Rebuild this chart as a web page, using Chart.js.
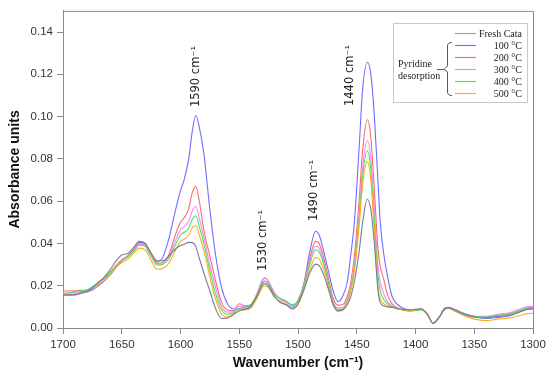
<!DOCTYPE html>
<html>
<head>
<meta charset="utf-8">
<script src="https://cdn.jsdelivr.net/npm/chart.js@4.4.1/dist/chart.umd.min.js"></script>
<style>
  html, body { margin: 0; padding: 0; background: #fff; }
  #wrap { width: 550px; height: 377px; position: relative; }
</style>
</head>
<body>
<div id="wrap"><canvas id="c"></canvas></div>
<script>
// Pyridine-FTIR spectra

const WN = [1700, 1690, 1685, 1680, 1675, 1670, 1665, 1660, 1655, 1650, 1645, 1640, 1635, 1630, 1625, 1620,
  1615, 1610, 1605, 1600, 1597, 1593, 1590, 1587, 1584, 1580, 1575, 1570, 1565, 1560, 1555, 1550,
  1545, 1540, 1535, 1530, 1528, 1525, 1520, 1515, 1510, 1505, 1500, 1495, 1490, 1485, 1482, 1478,
  1475, 1470, 1466, 1462, 1458, 1455, 1452, 1448, 1445, 1441, 1438, 1435, 1432, 1430, 1427, 1424,
  1420, 1415, 1410, 1405, 1400, 1395, 1390, 1385, 1380, 1375, 1372, 1365, 1360, 1350, 1340, 1330,
  1320, 1310, 1305, 1300];

const FRESH = [.0155, .0156, .0168, .0172, .0190, .0215, .0240, .0275, .0315, .0345, .0352, .0380, .0410, .0400, .0355, .0318,
  .0318, .0340, .0370, .0390, .0395, .0405, .0404, .0385, .0330, .0258, .0175, .0090, .0045, .0048, .0065, .0082,
  .0090, .0105, .0150, .0205, .0210, .0195, .0150, .0120, .0110, .0090, .0115, .0180, .0260, .0302, .0295, .0250,
  .0200, .0110, .0080, .0085, .0110, .0150, .0220, .0360, .0500, .0609, .0560, .0400, .0180, .0120, .0105, .0100,
  .0098, .0092, .0088, .0085, .0088, .0090, .0065, .0022, .0050, .0090, .0095, .0080, .0068, .0052, .0048, .0055,
  .0060, .0078, .0088, .0090];

const T100 = [.0158, .0158, .0162, .0170, .0180, .0200, .0222, .0250, .0285, .0318, .0340, .0370, .0405, .0398, .0352, .0312,
  .0335, .0420, .0540, .0650, .0700, .0800, .0930, .1005, .0950, .0820, .0560, .0340, .0190, .0115, .0090, .0090,
  .0090, .0100, .0150, .0215, .0222, .0205, .0150, .0122, .0112, .0098, .0130, .0210, .0360, .0458, .0440, .0360,
  .0290, .0175, .0125, .0150, .0220, .0350, .0500, .0850, .1130, .1257, .1200, .1000, .0700, .0500, .0350, .0250,
  .0150, .0110, .0092, .0085, .0088, .0090, .0068, .0022, .0050, .0095, .0098, .0085, .0072, .0055, .0045, .0050,
  .0058, .0080, .0090, .0092];

const T200 = [.0175, .0176, .0178, .0180, .0192, .0215, .0235, .0262, .0295, .0322, .0340, .0368, .0400, .0392, .0348, .0305,
  .0310, .0345, .0430, .0500, .0520, .0565, .0640, .0670, .0600, .0460, .0340, .0220, .0120, .0085, .0082, .0115,
  .0105, .0110, .0160, .0230, .0238, .0220, .0165, .0138, .0125, .0108, .0130, .0205, .0330, .0410, .0400, .0330,
  .0260, .0140, .0108, .0110, .0150, .0220, .0340, .0600, .0840, .0985, .0900, .0650, .0380, .0290, .0230, .0160,
  .0115, .0095, .0086, .0082, .0086, .0090, .0066, .0022, .0050, .0092, .0095, .0080, .0068, .0052, .0052, .0060,
  .0068, .0085, .0095, .0097];

const T300 = [.0165, .0168, .0172, .0175, .0190, .0210, .0232, .0260, .0292, .0318, .0338, .0365, .0398, .0390, .0345, .0303,
  .0308, .0335, .0405, .0465, .0480, .0505, .0555, .0575, .0520, .0426, .0300, .0190, .0100, .0075, .0078, .0102,
  .0100, .0112, .0160, .0228, .0235, .0218, .0165, .0135, .0122, .0105, .0125, .0200, .0315, .0388, .0378, .0312,
  .0245, .0125, .0095, .0095, .0135, .0195, .0300, .0540, .0760, .0886, .0800, .0560, .0300, .0215, .0160, .0125,
  .0105, .0092, .0085, .0082, .0086, .0090, .0066, .0022, .0050, .0092, .0096, .0082, .0070, .0055, .0055, .0065,
  .0072, .0092, .0100, .0102];

const T400 = [.0160, .0172, .0176, .0178, .0195, .0215, .0236, .0262, .0293, .0320, .0336, .0362, .0392, .0385, .0340, .0298,
  .0302, .0325, .0385, .0440, .0452, .0472, .0515, .0530, .0480, .0397, .0270, .0160, .0085, .0065, .0072, .0092,
  .0098, .0110, .0155, .0215, .0220, .0208, .0160, .0140, .0128, .0110, .0125, .0195, .0300, .0370, .0360, .0300,
  .0235, .0120, .0088, .0088, .0125, .0185, .0285, .0510, .0720, .0838, .0750, .0500, .0250, .0175, .0135, .0115,
  .0100, .0090, .0084, .0080, .0082, .0085, .0065, .0022, .0050, .0092, .0096, .0082, .0070, .0055, .0052, .0060,
  .0065, .0085, .0095, .0097];

const T500 = [.0160, .0162, .0165, .0172, .0185, .0205, .0225, .0252, .0285, .0310, .0325, .0352, .0378, .0370, .0320, .0278,
  .0282, .0305, .0360, .0410, .0420, .0440, .0475, .0485, .0440, .0365, .0240, .0135, .0065, .0052, .0062, .0082,
  .0085, .0095, .0140, .0195, .0200, .0190, .0145, .0125, .0112, .0090, .0110, .0180, .0275, .0333, .0325, .0275,
  .0215, .0110, .0082, .0085, .0120, .0175, .0265, .0480, .0680, .0787, .0700, .0450, .0200, .0140, .0115, .0105,
  .0098, .0090, .0085, .0082, .0085, .0088, .0066, .0022, .0048, .0088, .0092, .0075, .0062, .0042, .0035, .0042,
  .0048, .0060, .0068, .0070];

const SERIES_LABELS = ["Fresh Cata", "100 °C", "200 °C", "300 °C", "400 °C", "500 °C"];
const SERIES_COLORS = ["#7a7a9c", "#6f6fff", "#ff6a6a", "#ff80ff", "#3ee860", "#ffae1a"];
const X_TICKS = [1700, 1650, 1600, 1550, 1500, 1450, 1400, 1350, 1300];
const Y_TICKS = [0, 0.02, 0.04, 0.06, 0.08, 0.10, 0.12, 0.14];

// peak annotations: [text, wavenumber, absorbance at text foot]
const PEAK_LABELS = [
  ["1590 cm\u207B\u00B9", 1587, 0.1045],
  ["1440 cm\u207B\u00B9", 1456, 0.105],
  ["1530 cm\u207B\u00B9", 1530, 0.027],
  ["1490 cm\u207B\u00B9", 1486, 0.0506],
];

const ALL = [FRESH, T100, T200, T300, T400, T500];

const datasets = ALL.map((vals, i) => ({
  label: SERIES_LABELS[i],
  data: WN.map((w, j) => ({ x: w, y: vals[j] })),
  borderColor: SERIES_COLORS[i],
  borderWidth: 1.1,
  pointRadius: 0,
  fill: false,
  cubicInterpolationMode: "monotone",
  order: i === 0 ? 0 : 7 - i,
}));

// frame on top + right, peak labels and the bracketed legend
const decor = {
  id: "decor",
  afterDatasetsDraw(chart) {
    const { ctx, chartArea: a, scales } = chart;
    ctx.save();
    ctx.strokeStyle = "#8a8a8a";
    ctx.lineWidth = 1;
    ctx.beginPath();
    ctx.moveTo(a.left, a.top + 0.5);
    ctx.lineTo(a.right + 0.5, a.top + 0.5);
    ctx.lineTo(a.right + 0.5, a.bottom);
    ctx.stroke();

    ctx.fillStyle = "#222";
    ctx.font = "11.5px 'DejaVu Sans', sans-serif";
    ctx.textAlign = "left";
    ctx.textBaseline = "middle";
    PEAK_LABELS.forEach(([t, w, v]) => {
      const px = scales.x.getPixelForValue(w);
      const py = scales.y.getPixelForValue(v);
      ctx.save();
      ctx.translate(px, py);
      ctx.rotate(-Math.PI / 2);
      ctx.fillText(t, 0, 0);
      ctx.restore();
    });

    // legend box
    const bx = 393, by = 23, bw = 134, bh = 79;
    ctx.fillStyle = "#fff";
    ctx.fillRect(bx, by, bw, bh);
    ctx.strokeStyle = "#c8c8c8";
    ctx.strokeRect(bx + 0.5, by + 0.5, bw, bh);
    const rows = [33, 45, 57, 69, 81, 93];
    ctx.font = "10px 'Liberation Serif', 'Times New Roman', serif";
    ctx.textAlign = "right";
    rows.forEach((ry, i) => {
      ctx.strokeStyle = i === 0 ? "#a0a0a0" : SERIES_COLORS[i];
      ctx.lineWidth = 1.2;
      ctx.beginPath();
      ctx.moveTo(455, ry + 0.5);
      ctx.lineTo(476, ry + 0.5);
      ctx.stroke();
      ctx.fillStyle = "#222";
      ctx.fillText(SERIES_LABELS[i], 522, ry + 1);
    });
    // bracket
    ctx.strokeStyle = "#444";
    ctx.lineWidth = 0.9;
    ctx.beginPath();
    ctx.moveTo(452, 42.5);
    ctx.quadraticCurveTo(447.5, 42.5, 447.5, 46);
    ctx.lineTo(447.5, 66);
    ctx.lineTo(444, 69.5);
    ctx.lineTo(447.5, 72);
    ctx.lineTo(447.5, 92);
    ctx.quadraticCurveTo(447.5, 95.5, 452, 95.5);
    ctx.moveTo(444, 69.5);
    ctx.lineTo(437, 69.5);
    ctx.stroke();
    ctx.textAlign = "left";
    ctx.fillStyle = "#222";
    ctx.fillText("Pyridine", 398, 64);
    ctx.fillText("desorption", 398, 76);
    ctx.restore();
  },
};

const axisGrid = { display: true, drawOnChartArea: false, drawTicks: true, tickLength: 6, color: "#8a8a8a" };
const tickFont = { family: "'Liberation Sans', Arial, sans-serif", size: 11.5 };

new Chart(document.getElementById("c"), {
  type: "line",
  data: { datasets },
  plugins: [decor],
  options: {
    responsive: true,
    maintainAspectRatio: false,
    animation: false,
    layout: { padding: { top: 7, right: 17, left: 0, bottom: 0 } },
    plugins: { legend: { display: false }, tooltip: { enabled: false } },
    scales: {
      x: {
        type: "linear",
        reverse: true,
        min: 1300,
        max: 1700,
        afterBuildTicks: s => { s.ticks = X_TICKS.map(v => ({ value: v })); },
        afterFit: s => { s.height = 49; },
        grid: axisGrid,
        border: { display: true, color: "#8a8a8a", width: 1 },
        ticks: { color: "#333", font: tickFont, padding: 4, maxRotation: 0, callback: v => String(v) },
        title: {
          display: true,
          text: "Wavenumber (cm\u207B\u00B9)",
          color: "#111",
          font: { family: "'Liberation Sans', Arial, sans-serif", size: 14, weight: "bold" },
          padding: { top: 0, bottom: 5 },
        },
      },
      y: {
        min: 0,
        max: 0.15,
        afterBuildTicks: s => { s.ticks = Y_TICKS.map(v => ({ value: v })); },
        afterFit: s => { s.width = 63; },
        grid: axisGrid,
        border: { display: true, color: "#8a8a8a", width: 1 },
        ticks: { color: "#333", font: tickFont, padding: 4, callback: v => v.toFixed(2) },
        title: {
          display: true,
          text: "Absorbance units",
          color: "#111",
          font: { family: "'Liberation Sans', Arial, sans-serif", size: 14, weight: "bold" },
          padding: { top: 7, bottom: 0 },
        },
      },
    },
  },
});
</script>
</body>
</html>
